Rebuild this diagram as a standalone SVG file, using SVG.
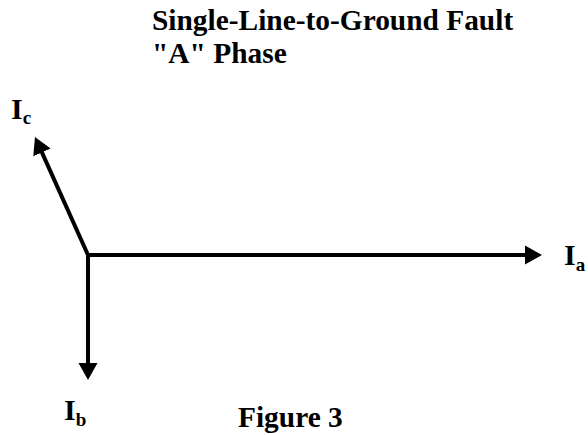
<svg xmlns="http://www.w3.org/2000/svg" width="588" height="435" viewBox="0 0 588 435">
<style>
text{font-family:"Liberation Serif","Times New Roman",serif;font-weight:bold;fill:#000}
.t{font-size:29.4px}
.lbl{font-size:30px}
.sub{font-size:19px}
.vec{stroke:#000;stroke-width:4;fill:none;marker-end:url(#ah)}
</style>
<defs>
<marker id="ah" markerUnits="userSpaceOnUse" markerWidth="18" markerHeight="20" refX="5" refY="9.5" orient="auto" viewBox="0 0 18 19">
<path d="M0,0 L17,9.5 L0,19 z" fill="#000"/>
</marker>
</defs>
<rect width="588" height="435" fill="#fff"/>
<g id="title">
<text class="t" x="152" y="30">Single-Line-to-Ground Fault</text>
<text class="t" x="152" y="63">"A" Phase</text>
</g>
<g id="connectors">
<line class="vec" x1="88" y1="255" x2="530" y2="255"/>
<line class="vec" x1="88" y1="253" x2="88" y2="368"/>
<line class="vec" x1="88" y1="255" x2="39.9" y2="147.9"/>
</g>
<g id="Ia"><text class="lbl" x="564" y="265">I<tspan class="sub" dy="6">a</tspan></text></g>
<g id="Ib"><text class="lbl" x="64" y="420">I<tspan class="sub" dy="6">b</tspan></text></g>
<g id="Ic"><text class="lbl" x="11" y="119">I<tspan class="sub" dy="5">c</tspan></text></g>
<g id="figure"><text class="t" x="238" y="427">Figure 3</text></g>
</svg>
